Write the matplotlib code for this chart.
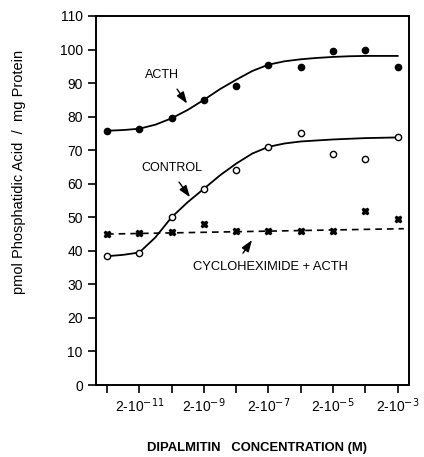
import matplotlib
matplotlib.use('Agg')
import matplotlib.pyplot as plt
from matplotlib.ticker import FixedLocator, NullLocator

# concentraciones (M) y valores medidos
conc = [2e-12, 2e-11, 2e-10, 2e-9, 2e-8, 2e-7, 2e-6, 2e-5, 2e-4, 2e-3]
acth = [75.7, 76.4, 79.5, 85.0, 89.2, 95.5, 94.9, 99.6, 99.8, 94.9]
control = [38.4, 39.5, 50.0, 58.4, 64.1, 71.0, 75.0, 68.9, 67.4, 73.9]
cyclo = [45.0, 45.4, 45.7, 47.9, 45.9, 45.9, 45.9, 45.9, 51.9, 49.4]

# curvas ajustadas
fit_conc = [2e-12, 6.3e-12, 2e-11, 6.3e-11, 2e-10, 6.3e-10, 2e-9, 6.3e-9, 2e-8, 6.3e-8,
            2e-7, 6.3e-7, 2e-6, 6.3e-6, 2e-5, 6.3e-5, 2e-4, 6.3e-4, 2e-3]
acth_fit = [75.8, 76.0, 76.4, 77.6, 79.5, 82.0, 85.0, 88.2, 91.0, 93.6,
            95.5, 96.5, 97.1, 97.5, 97.8, 98.0, 98.1, 98.1, 98.1]
control_fit = [38.4, 38.8, 39.5, 44.0, 50.0, 54.5, 58.5, 62.5, 66.0, 69.0,
               71.0, 72.0, 72.6, 72.9, 73.2, 73.4, 73.6, 73.7, 73.8]
cyclo_fit_conc = [2e-12, 3.1e-3]
cyclo_fit = [45.0, 46.6]

xtick_labels = ['', '2-10$^{-11}$', '', '2-10$^{-9}$', '', '2-10$^{-7}$', '',
                '2-10$^{-5}$', '', '2-10$^{-3}$']

plt.rcParams['font.family'] = ['Liberation Sans', 'DejaVu Sans']

fig = plt.figure(figsize=(4.24, 4.57), dpi=100)
ax = fig.add_axes([0.2264, 0.1575, 0.7382, 0.8075])

ax.plot(fit_conc, acth_fit, color='black', lw=1.3, zorder=2)
ax.plot(fit_conc, control_fit, color='black', lw=1.3, zorder=2)
ax.plot(cyclo_fit_conc, cyclo_fit, color='black', lw=1.2, ls=(0, (4, 3)), zorder=2)

ax.plot(conc, acth, 'o', color='black', ms=4.5, zorder=3)
ax.plot(conc, control, 'o', mfc='white', mec='black', mew=1.0, ms=4.5, zorder=3)
ax.plot(conc, cyclo, 'X', color='black', ms=5, zorder=3)

ax.set_xscale('log')
ax.set_xlim(2 * 10 ** -12.34, 2 * 10 ** -2.65)
ax.set_ylim(0, 110)
ax.xaxis.set_major_locator(FixedLocator(conc))
ax.xaxis.set_minor_locator(NullLocator())
ax.set_xticklabels(xtick_labels)
ax.set_yticks(range(0, 111, 10))

ax.tick_params(axis='both', direction='out', length=6, width=1.2, labelsize=10, color='black')
ax.tick_params(axis='x', pad=2)
for s in ax.spines.values():
    s.set_linewidth(1.4)

# textos y flechas
flecha = dict(arrowstyle='-|>,head_length=0.7,head_width=0.25', color='black', lw=1.0,
              shrinkA=0, shrinkB=0, mutation_scale=10)
ax.text(2 * 10 ** -10.3, 92.4, 'ACTH', ha='center', va='center', fontsize=9)
ax.annotate('', xy=(2 * 10 ** -9.52, 83.9), xytext=(2 * 10 ** -9.83, 88.2), arrowprops=flecha)
ax.text(2 * 10 ** -10.0, 64.7, 'CONTROL', ha='center', va='center', fontsize=9)
ax.annotate('', xy=(2 * 10 ** -9.43, 56.0), xytext=(2 * 10 ** -9.77, 60.5), arrowprops=flecha)
ax.text(2 * 10 ** -6.95, 35.2, 'CYCLOHEXIMIDE + ACTH', ha='center', va='center', fontsize=9.3)
ax.annotate('', xy=(2 * 10 ** -7.51, 43.2), xytext=(2 * 10 ** -7.79, 39.3), arrowprops=flecha)

fig.text(257 / 424, 1 - 448 / 457, 'DIPALMITIN   CONCENTRATION (M)', ha='center', va='center',
         fontsize=9.4, fontweight='bold')
fig.text(19 / 424, 1 - 172 / 457, 'pmol Phosphatidic Acid  /  mg Protein', ha='center', va='center',
         rotation=90, fontsize=10.5)

fig.savefig('out.png', dpi=100)
